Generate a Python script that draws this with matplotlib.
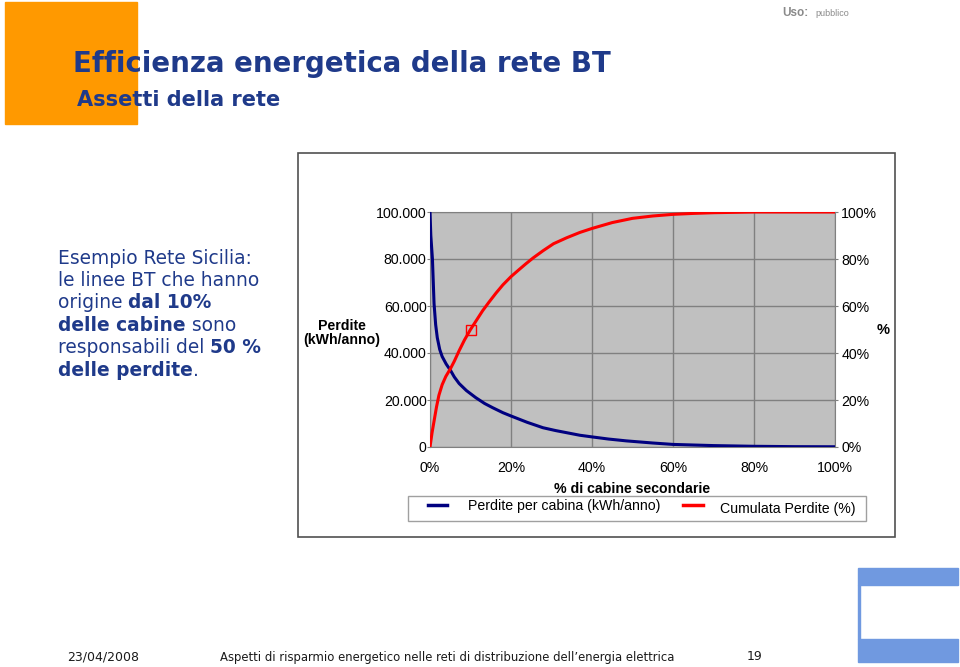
import matplotlib
matplotlib.use("Agg")
import matplotlib.pyplot as plt
from matplotlib.patches import Rectangle
from matplotlib.ticker import FuncFormatter

W, H = 960, 667

# % di cabine secondarie (x) and loss per cabin (kWh/anno)
x_blue = [0, 0.2, 0.6, 1, 1.4, 1.8, 2.4, 3, 4, 5.1, 6, 7.2, 9, 11.3, 13.5,
          15.5, 18, 20, 24, 27.9, 31, 34, 37, 40, 44, 48.5, 55, 60, 70, 80,
          90, 100]
perdite = [100000, 90000, 80000, 61000, 52000, 46500, 41500, 38500, 35300,
           32500, 29800, 27000, 24000, 21000, 18500, 16700, 14600, 13200,
           10500, 8200, 7000, 6000, 5000, 4300, 3400, 2600, 1700, 1100, 600,
           300, 150, 100]

# cumulative losses (%)
x_red = [0, 0.5, 1, 1.6, 2.2, 3, 3.9, 5.1, 6, 7.2, 8.5, 10, 11.5, 13, 14.5,
         16.3, 18, 20, 22, 23.7, 25.5, 27.9, 30.5, 33.7, 37, 40, 45, 50, 55,
         60, 65, 70, 80, 90, 100]
cumulata = [0, 6, 11, 17, 22, 26.5, 30, 33.5, 36.5, 41, 45.5, 50, 54, 58,
            61.5, 65.5, 69, 72.5, 75.5, 78, 80.5, 83.5, 86.5, 89, 91.3, 93,
            95.5, 97.3, 98.3, 99, 99.4, 99.7, 100, 100, 100]

marker_pt = (10, 50)

left_ticks = [0, 20000, 40000, 60000, 80000, 100000]
right_ticks = [0, 20, 40, 60, 80, 100]
x_ticks = [0, 20, 40, 60, 80, 100]

BLUE_TXT = "#1f3a8a"
SANS = ["Liberation Sans", "DejaVu Sans"]
FS = 10.2

plt.rcParams["font.family"] = SANS


def fx(px):
    return px / W


def fy(py):
    return 1 - py / H


fig = plt.figure(figsize=(W / 100, H / 100), dpi=100)

# header block
fig.patches.append(Rectangle((fx(5), fy(124)), fx(132), 122 / H,
                             transform=fig.transFigure, color="#ff9900", zorder=0))
fig.text(fx(73), fy(64), "Efficienza energetica della rete BT", fontsize=19.9,
         fontweight="bold", color=BLUE_TXT, va="center", family="DejaVu Sans")
fig.text(fx(77), fy(100), "Assetti della rete", fontsize=15,
         fontweight="bold", color=BLUE_TXT, va="center", family="DejaVu Sans")
fig.text(fx(782), fy(13), "Uso:", fontsize=8.5, fontweight="bold",
         color="#8a8a8a", va="center")
fig.text(fx(815), fy(13), "pubblico", fontsize=6.5, color="#8a8a8a",
         va="center")

# left text block
lines = [
    [("Esempio Rete Sicilia:", "normal")],
    [("le linee BT che hanno", "normal")],
    [("origine ", "normal"), ("dal 10%", "bold")],
    [("delle cabine", "bold"), (" sono", "normal")],
    [("responsabili del ", "normal"), ("50 %", "bold")],
    [("delle perdite", "bold"), (".", "normal")],
]
fig.canvas.draw()
renderer = fig.canvas.get_renderer()
y0 = 258
for i, parts in enumerate(lines):
    xp = 58
    for txt, wt in parts:
        t = fig.text(fx(xp), fy(y0 + i * 22.4), txt, fontsize=13.4, fontweight=wt,
                     color=BLUE_TXT, va="center", family="DejaVu Sans")
        bb = t.get_window_extent(renderer=renderer)
        xp += bb.width

# chart frame
fig.patches.append(Rectangle((fx(298), fy(537)), fx(597), 384 / H,
                             transform=fig.transFigure, facecolor="white",
                             edgecolor="#505050", lw=1.2, zorder=0))

ax = fig.add_axes([fx(430), fy(447), fx(405), 235 / H])
ax.set_zorder(2)
ax.set_facecolor("#c0c0c0")
ax.plot(x_blue, perdite, color="#000080", lw=2.2, zorder=3)
ax.set_xlim(0, 100)
ax.set_ylim(0, 100000)
ax.set_xticks(x_ticks)
ax.set_yticks(left_ticks)
ax.xaxis.set_major_formatter(FuncFormatter(lambda v, p: f"{int(v)}%"))
ax.yaxis.set_major_formatter(
    FuncFormatter(lambda v, p: "0" if v == 0 else f"{int(v):,}".replace(",", ".")))
ax.grid(True, color="#808080", lw=1)
ax.set_axisbelow(True)
for s in ax.spines.values():
    s.set_color("#808080")
ax.tick_params(axis="y", length=2, color="#808080", labelsize=FS, pad=0.5)
ax.tick_params(axis="x", length=0, labelsize=FS, pad=10)
ax.set_xlabel("% di cabine secondarie", fontsize=FS, fontweight="bold",
              labelpad=5)

ax2 = ax.twinx()
ax2.set_zorder(3)
ax2.plot(x_red, cumulata, color="#ff0000", lw=2.2, zorder=3)
ax2.plot([marker_pt[0]], [marker_pt[1]], marker="s", ms=7, mfc="none",
         mec="#ff0000", mew=1, zorder=4)
ax2.set_ylim(0, 100)
ax2.set_yticks(right_ticks)
ax2.yaxis.set_major_formatter(FuncFormatter(lambda v, p: f"{int(v)}%"))
ax2.tick_params(length=2, color="#808080", labelsize=FS, pad=2.5)
for s in ax2.spines.values():
    s.set_visible(False)

fig.text(fx(342), fy(333), "Perdite\n(kWh/anno)", fontsize=FS,
         fontweight="bold", ha="center", va="center", linespacing=1.0)
fig.text(fx(883), fy(330), "%", fontsize=10.5, fontweight="bold", ha="center",
         va="center")

# legend box
fig.patches.append(Rectangle((fx(408), fy(521)), fx(458), 25 / H,
                             transform=fig.transFigure, facecolor="white",
                             edgecolor="#a0a0a0", lw=1, zorder=1))
fig.lines.append(plt.Line2D([fx(428), fx(447)], [fy(505), fy(505)],
                            transform=fig.transFigure, color="#000080", lw=2.5,
                            zorder=4))
fig.text(fx(468), fy(506), "Perdite per cabina (kWh/anno)", fontsize=FS,
         va="center", zorder=4)
fig.lines.append(plt.Line2D([fx(683), fx(703)], [fy(505), fy(505)],
                            transform=fig.transFigure, color="#ff0000", lw=2.5,
                            zorder=4))
fig.text(fx(720), fy(509), "Cumulata Perdite (%)", fontsize=FS,
         va="center", zorder=4)

# bottom-right decoration
deco = "#7099e0"
fig.patches.append(Rectangle((fx(858), fy(585)), fx(100), 17 / H,
                             transform=fig.transFigure, color=deco))
fig.patches.append(Rectangle((fx(858), fy(662)), fx(100), 23 / H,
                             transform=fig.transFigure, color=deco))
fig.patches.append(Rectangle((fx(858), fy(639)), fx(2), 54 / H,
                             transform=fig.transFigure, color=deco))

# footer
fig.text(fx(67), fy(657), "23/04/2008", fontsize=9, va="center",
         family="DejaVu Sans", color="#1a1a1a")
fig.text(fx(220), fy(657),
         "Aspetti di risparmio energetico nelle reti di distribuzione dell\u2019energia elettrica",
         fontsize=8.4, va="center", family="DejaVu Sans", color="#1a1a1a")
fig.text(fx(747), fy(657), "19", fontsize=9, va="center",
         family="DejaVu Sans", color="#1a1a1a")

fig.savefig("out.png", dpi=100)
